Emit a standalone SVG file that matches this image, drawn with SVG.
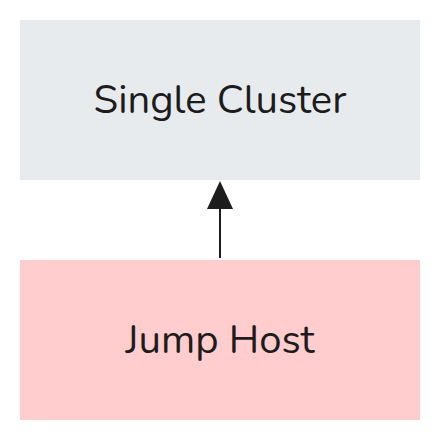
<svg xmlns="http://www.w3.org/2000/svg" width="440" height="440" viewBox="0 0 440 440">
<style>
.lbl{font-family:"Nunito","Open Sans","Noto Sans",sans-serif;font-size:40px;fill:#1c1c1c;text-anchor:middle;dominant-baseline:central}
.edge{stroke:#1c1c1c;stroke-width:2;fill:none}
.head{fill:#1c1c1c}
</style>
<rect width="440" height="440" fill="#ffffff"/>
<g id="single-cluster">
<rect x="20" y="20" width="400" height="160" fill="#e8ebee"/>
<text class="lbl" x="220" y="100">Single Cluster</text>
</g>
<g id="jump-host">
<rect x="20" y="260" width="400" height="160" fill="#ffcdcd"/>
<text class="lbl" x="220" y="340">Jump Host</text>
</g>
<g id="connectors">
<line class="edge" x1="220" y1="258" x2="220" y2="205"/>
<path class="head" d="M220 181 L233 209 L207 209 Z"/>
</g>
</svg>
